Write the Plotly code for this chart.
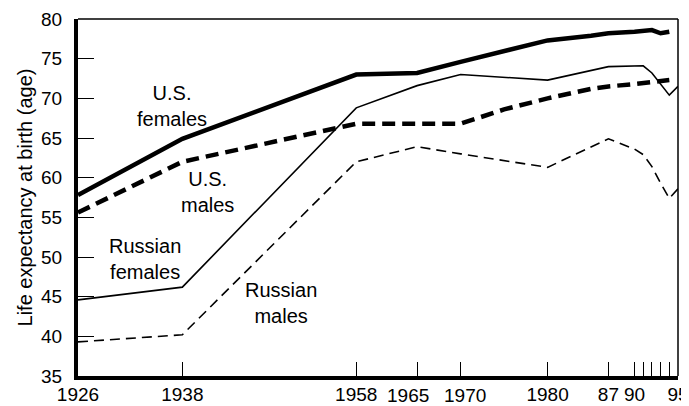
import plotly.graph_objects as go

# ---- data ----
years_us_females = [1926, 1938, 1958, 1965, 1970, 1975, 1980, 1985, 1987, 1990, 1991, 1992, 1993, 1994]
us_females = [57.8, 64.9, 73.0, 73.2, 74.6, 76.0, 77.3, 77.9, 78.2, 78.4, 78.5, 78.6, 78.2, 78.4]

years_us_males = [1926, 1938, 1958, 1965, 1970, 1975, 1980, 1985, 1987, 1990, 1992, 1994]
us_males = [55.6, 62.0, 66.8, 66.8, 66.8, 68.6, 70.0, 71.2, 71.5, 71.8, 72.1, 72.3]

years_ru_females = [1926, 1938, 1958, 1965, 1970, 1980, 1987, 1991, 1992, 1994, 1995]
ru_females = [44.6, 46.2, 68.8, 71.6, 73.0, 72.3, 74.0, 74.1, 73.2, 70.4, 71.5]

years_ru_males = [1926, 1938, 1958, 1965, 1970, 1980, 1987, 1990, 1991, 1992, 1993, 1994, 1995]
ru_males = [39.3, 40.2, 62.0, 63.9, 63.0, 61.3, 64.9, 63.6, 62.9, 61.4, 59.3, 57.4, 58.6]

x_tickvals = [1926, 1938, 1958, 1965, 1970, 1980, 1987, 1990, 1991, 1992, 1993, 1994, 1995]
x_ticktext = ["1926", "1938", "1958", "", "", "1980", "87", "90", "", "", "", "", "95"]
# two crowded year labels are set slightly apart from their ticks, as in the original
offset_labels = ["1965", "1970"]
offset_label_x = [1963.9, 1970.5]
y_tickvals = [35, 40, 45, 50, 55, 60, 65, 70, 75, 80]

labels = ["U.S.<br>females", "U.S.<br>males", "Russian<br>females", "Russian<br>males"]
label_x = [1936.8, 1940.9, 1933.7, 1949.3]
label_y = [69.0, 58.2, 49.7, 44.25]

FONT = "Liberation Sans, Arial, Helvetica, sans-serif"

fig = go.Figure()
fig.add_trace(go.Scatter(x=years_us_females, y=us_females, mode="lines",
                         line=dict(color="black", width=4.5)))
fig.add_trace(go.Scatter(x=years_us_males, y=us_males, mode="lines",
                         line=dict(color="black", width=4.5, dash="13px,7px")))
fig.add_trace(go.Scatter(x=years_ru_females, y=ru_females, mode="lines",
                         line=dict(color="black", width=1.6)))
fig.add_trace(go.Scatter(x=years_ru_males, y=ru_males, mode="lines",
                         line=dict(color="black", width=1.6, dash="10px,6px")))

for t, xx, yy in zip(labels, label_x, label_y):
    fig.add_annotation(x=xx, y=yy, xref="x", yref="y", text=t, showarrow=False,
                       font=dict(family=FONT, size=20, color="black"),
                       xanchor="center", yanchor="middle", align="center")

for t, xx in zip(offset_labels, offset_label_x):
    fig.add_annotation(x=xx, y=0, xref="x", yref="paper", text=t, showarrow=False,
                       font=dict(family=FONT, size=19, color="black"),
                       xanchor="center", yanchor="top", yshift=-9,
                       borderpad=0, borderwidth=0)

# thin top and right frame lines
fig.add_shape(type="line", xref="paper", yref="paper", x0=0, x1=1, y0=1, y1=1,
              line=dict(color="black", width=1.5))
fig.add_shape(type="line", xref="paper", yref="paper", x0=1, x1=1, y0=0, y1=1,
              line=dict(color="black", width=1.5))

# page body adds an 8px offset, so the figure is sized to the visible area
fig.update_layout(
    width=681, height=398,
    margin=dict(l=70, r=11, t=11, b=30),
    paper_bgcolor="white", plot_bgcolor="white",
    showlegend=False,
    font=dict(family=FONT, size=19, color="black"),
    xaxis=dict(range=[1926, 1995], tickvals=x_tickvals, ticktext=x_ticktext,
               tickangle=0, automargin=False, ticklabelstandoff=-2,
               ticks="inside", ticklen=14, tickwidth=1.3, tickcolor="black",
               showline=True, linewidth=4, linecolor="black", mirror=False,
               showgrid=False, zeroline=False,
               tickfont=dict(family=FONT, size=19, color="black")),
    yaxis=dict(range=[35, 80], tickvals=y_tickvals, automargin=False,
               ticks="inside", ticklen=16, tickwidth=1.3, tickcolor="black",
               showline=True, linewidth=4, linecolor="black", mirror=False,
               showgrid=False, zeroline=False, ticklabelstandoff=8,
               title=dict(text="Life expectancy at birth (age)", standoff=4,
                          font=dict(family=FONT, size=20, color="black")),
               tickfont=dict(family=FONT, size=19, color="black")),
)

fig.write_html("out.html")
